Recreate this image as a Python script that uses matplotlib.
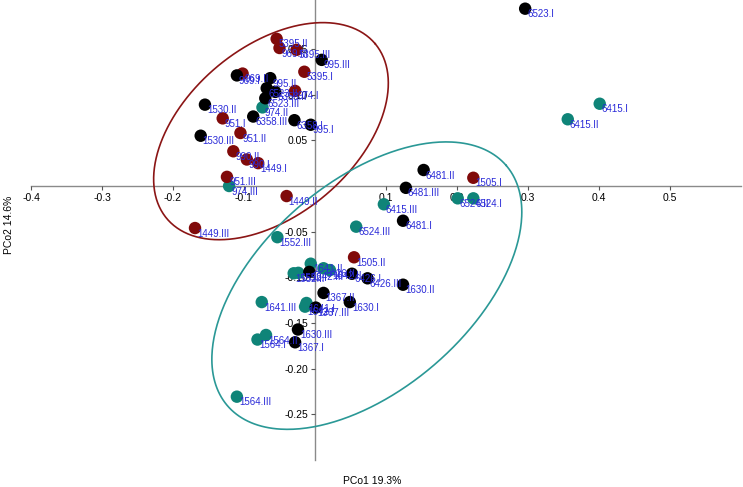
import numpy as np
import matplotlib
matplotlib.use("Agg")
import matplotlib.pyplot as plt

plt.rcParams['font.family'] = ['Liberation Sans', 'DejaVu Sans']

# --- data (PCo1, PCo2) ---
red_labels = ["5395.II", "969.III", "5395.III", "5395.I", "969.II", "974.I", "951.I",
              "951.II", "990.II", "990.I", "1449.I", "951.III", "1449.II", "1449.III",
              "1505.I", "1505.II"]
red_x = [-0.054, -0.050, -0.026, -0.015, -0.102, -0.028, -0.130, -0.105, -0.115, -0.096,
         -0.080, -0.124, -0.040, -0.169, 0.223, 0.055]
red_y = [0.161, 0.151, 0.149, 0.125, 0.123, 0.104, 0.074, 0.058, 0.038, 0.029,
         0.025, 0.010, -0.011, -0.046, 0.009, -0.078]

black_labels = ["6523.I", "995.III", "969.I", "995.II", "6523.II", "6358.II", "6523.III",
                "1530.II", "6358.III", "6358.I", "995.I", "1530.III", "6481.II", "6481.III",
                "6481.I", "1642.III", "6426.I", "6426.III", "1630.II", "1367.II", "1630.I",
                "1367.III", "1630.III", "1367.I"]
black_x = [0.296, 0.0094, -0.110, -0.063, -0.068, -0.056, -0.070, -0.155, -0.087, -0.029,
           -0.006, -0.161, 0.153, 0.128, 0.124, -0.008, 0.052, 0.074, 0.124, 0.012,
           0.049, 0.001, -0.024, -0.028]
black_y = [0.194, 0.138, 0.121, 0.118, 0.107, 0.103, 0.096, 0.089, 0.076, 0.072,
           0.067, 0.055, 0.0175, -0.002, -0.038, -0.094, -0.096, -0.101, -0.108, -0.117,
           -0.127, -0.133, -0.157, -0.171]

teal_labels = ["974.II", "974.III", "1552.III", "6524.III", "6524.II", "6524.I", "6415.III",
               "6415.I", "6415.II", "1641.II", "1552.II", "1552.I", "6426.II", "1642.II",
               "1641.III", "1641.I", "1642.I", "1564.II", "1564.I", "1564.III"]
teal_x = [-0.074, -0.121, -0.053, 0.058, 0.201, 0.223, 0.097, 0.401, 0.356, -0.006,
          -0.030, -0.0235, 0.012, 0.021, -0.075, -0.012, -0.014, -0.069, -0.081, -0.110]
teal_y = [0.086, 0.000, -0.056, -0.0445, -0.0135, -0.0135, -0.020, 0.090, 0.073, -0.085,
          -0.0955, -0.095, -0.090, -0.092, -0.127, -0.128, -0.132, -0.163, -0.168, -0.2305]

xticks = [-0.4, -0.3, -0.2, -0.1, 0.1, 0.2, 0.3, 0.4, 0.5]
xtick_labels = ["-0.4", "-0.3", "-0.2", "-0.1", "0.1", "0.2", "0.3", "0.4", "0.5"]
yticks = [-0.25, -0.20, -0.15, -0.10, -0.05, 0.05, 0.10, 0.15]
ytick_labels = ["-0.25", "-0.20", "-0.15", "-0.10", "-0.05", "0.05", "0.10", "0.15"]

# ellipses: centre (data), semi-axes (px), angle (deg, screen)
ell_red = dict(cx=-0.062, cy=0.060, a=136, b=84, ang=40)
ell_teal = dict(cx=0.073, cy=-0.109, a=184, b=104, ang=40.8)

RED = "#800a0a"
TEAL = "#0f8478"
LBL = "#2a2ad8"

W, H = 743, 487
fig = plt.figure(figsize=(W / 100, H / 100), dpi=100)
x0, x1 = -0.4, 0.6
y0, y1 = -0.30, 0.2035
px_x = 710.0
px_y = 914.0
left_px = 31
bottom_px = 186 + (-y0) * px_y  # pixel row of y0
top_px = 186 - y1 * px_y
ax = fig.add_axes([left_px / W, (H - bottom_px) / H, (x1 - x0) * px_x / W, (bottom_px - top_px) / H])
ax.set_xlim(x0, x1)
ax.set_ylim(y0, y1)

for s in ["top", "right"]:
    ax.spines[s].set_visible(False)
ax.spines["left"].set_position(("data", 0))
ax.spines["bottom"].set_position(("data", 0))
for s in ["left", "bottom"]:
    ax.spines[s].set_color("#8a8a8a")
    ax.spines[s].set_linewidth(1.0)
    ax.spines[s].set_zorder(0.5)

ax.set_xticks(xticks)
ax.set_xticklabels(xtick_labels)
ax.set_yticks(yticks)
ax.set_yticklabels(ytick_labels)
ax.tick_params(axis="both", direction="out", length=3, width=0.8, color="#555555",
               labelsize=7.5, pad=2)

# ellipses
t = np.linspace(0, 2 * np.pi, 400)
for e, col in [(ell_red, "#8b1515"), (ell_teal, "#2a9896")]:
    th = np.deg2rad(e["ang"])
    dxp = e["a"] * np.cos(t) * np.cos(th) - e["b"] * np.sin(t) * np.sin(th)
    dyp = e["a"] * np.cos(t) * np.sin(th) + e["b"] * np.sin(t) * np.cos(th)
    ax.plot(e["cx"] + dxp / px_x, e["cy"] + dyp / px_y, color=col, lw=1.2, zorder=1)

ms = 80
ax.scatter(teal_x, teal_y, s=ms, c=TEAL, edgecolors="none", zorder=3)
ax.scatter(red_x, red_y, s=ms, c=RED, edgecolors="none", zorder=3)
ax.scatter(black_x, black_y, s=ms, c="black", edgecolors="none", zorder=3)

for labs, xs, ys in [(teal_labels, teal_x, teal_y), (red_labels, red_x, red_y),
                     (black_labels, black_x, black_y)]:
    for lab, xv, yv in zip(labs, xs, ys):
        ax.annotate(lab, (xv, yv), xytext=(1.5, -4), textcoords="offset points",
                    ha="left", va="center", fontsize=7, color=LBL, zorder=4)

fig.text(372 / W, 1 - 481 / H, "PCo1 19.3%", ha="center", va="center", fontsize=7.5)
fig.text(9 / W, 1 - 225 / H, "PCo2 14.6%", ha="center", va="center", fontsize=7.5, rotation=90)

fig.savefig("out.png", dpi=100)
